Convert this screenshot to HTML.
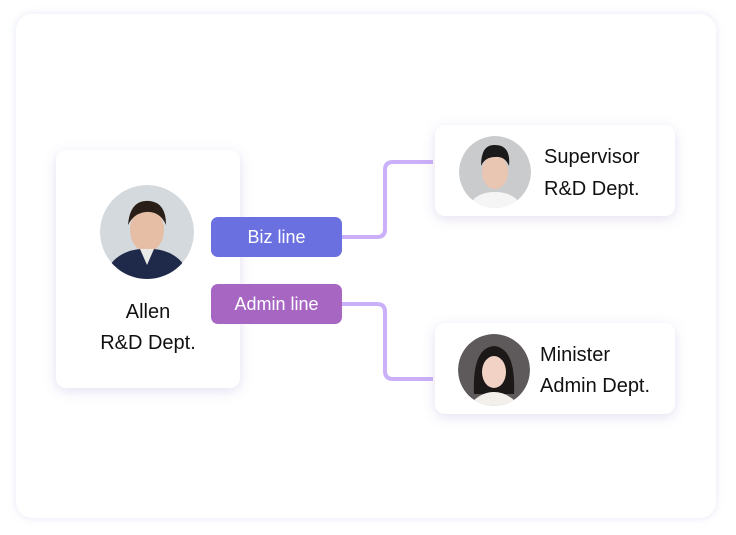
<!DOCTYPE html>
<html><head><meta charset="utf-8"><style>
body{margin:0;width:736px;height:535px;background:#fff;position:relative;overflow:hidden;font-family:"Liberation Sans","DejaVu Sans",sans-serif;}
.outer{position:absolute;left:16px;top:14px;width:700px;height:504px;border-radius:16px;background:#fff;box-shadow:0 0 8px rgba(180,190,230,0.35);}
.card{position:absolute;background:#fff;border-radius:10px;box-shadow:0 3px 12px rgba(150,130,200,0.25);}
.av{position:absolute;border-radius:50%;overflow:hidden;}
.t{position:absolute;font-size:20px;color:#111;white-space:nowrap;}
.badge{position:absolute;left:211px;width:131px;height:40px;border-radius:7px;color:#fff;font-size:18px;text-align:center;line-height:40px;}
</style></head><body>
<div class="outer"></div>
<svg style="position:absolute;left:0;top:0" width="736" height="535">
<path d="M342 237 H377 Q385 237 385 229 V170 Q385 162 393 162 H433" fill="none" stroke="#c9b0f8" stroke-width="4"/>
<path d="M342 304 H377 Q385 304 385 312 V371 Q385 379 393 379 H433" fill="none" stroke="#c9b0f8" stroke-width="4"/>
</svg>
<div class="card" style="left:56px;top:150px;width:184px;height:238px;"></div>
<svg class="av" style="left:100px;top:185px" width="94" height="94"><circle cx="47" cy="47" r="47" fill="#d3d9dc"/><ellipse cx="47" cy="45" rx="17" ry="22" fill="#e6bda5"/><path d="M28 40 Q30 14 50 16 Q66 18 66 40 Q60 26 46 27 Q34 28 28 40Z" fill="#2a1e18"/><path d="M10 80 Q20 66 40 64 L47 75 L54 64 Q74 66 84 80 L84 94 L10 94Z" fill="#1f2a4a"/><path d="M40 64 L47 80 L54 64Z" fill="#e8ebe8"/></svg>
<div class="t" style="left:0;width:296px;text-align:center;top:301px;">Allen</div>
<div class="t" style="left:0;width:296px;text-align:center;top:332px;">R&amp;D Dept.</div>
<div class="badge" style="top:217px;background:#6b70e0;">Biz line</div>
<div class="badge" style="top:284px;background:#a866c3;">Admin line</div>
<div class="card" style="left:435px;top:125px;width:240px;height:91px;"></div>
<svg class="av" style="left:459px;top:136px" width="72" height="72"><circle cx="36" cy="36" r="36" fill="#c9cbcd"/><ellipse cx="36" cy="36" rx="13" ry="17" fill="#e9c6b2"/><path d="M22 30 Q22 8 36 9 Q52 9 50 30 Q46 20 36 21 Q26 21 22 30Z" fill="#1a1a1a"/><path d="M12 66 Q20 56 36 56 Q52 56 60 66 L60 72 L12 72Z" fill="#f5f5f5"/></svg>
<div class="t" style="left:544px;top:146px;">Supervisor</div>
<div class="t" style="left:544px;top:178px;">R&amp;D Dept.</div>
<div class="card" style="left:435px;top:323px;width:240px;height:91px;"></div>
<svg class="av" style="left:458px;top:334px" width="72" height="72"><circle cx="36" cy="36" r="36" fill="#5e5a5c"/><path d="M16 60 Q14 14 36 12 Q58 14 56 60Z" fill="#1c1818"/><ellipse cx="36" cy="38" rx="12" ry="16" fill="#f1d2c4"/><path d="M14 68 Q24 58 36 58 Q48 58 58 68 L58 72 L14 72Z" fill="#f3f0ec"/></svg>
<div class="t" style="left:540px;top:344px;">Minister</div>
<div class="t" style="left:540px;top:375px;">Admin Dept.</div>
</body></html>
